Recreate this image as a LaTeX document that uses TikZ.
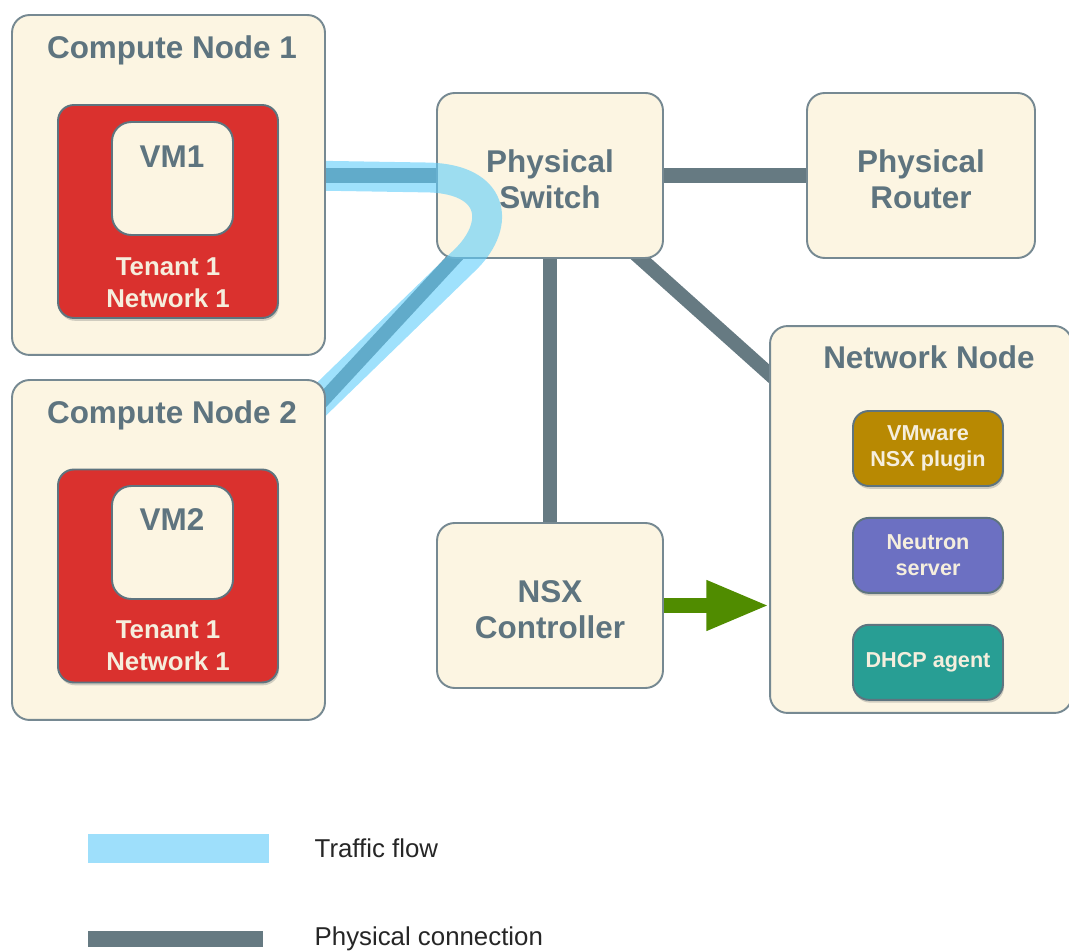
\documentclass[tikz,border=0pt]{standalone}
\usepackage{fontspec}
\setmainfont{Liberation Sans}
\usetikzlibrary{arrows.meta, positioning, calc, shadows}
\definecolor{cream}{RGB}{252,245,226}
\definecolor{slate}{RGB}{94,116,127}
\definecolor{rim}{RGB}{118,137,146}
\definecolor{wiregray}{RGB}{102,122,130}
\definecolor{tenantred}{RGB}{218,49,46}
\definecolor{pluginochre}{RGB}{184,137,2}
\definecolor{neutronblue}{RGB}{108,112,194}
\definecolor{dhcpteal}{RGB}{40,158,148}
\definecolor{flowblue}{RGB}{95,205,250}
\definecolor{keyblue}{RGB}{158,223,251}
\definecolor{ctrlgreen}{RGB}{80,140,0}
\definecolor{paletext}{RGB}{245,238,221}
\newcommand{\hostfont}{\fontsize{17.9}{20.4}\selectfont\bfseries}
\newcommand{\netfont}{\fontsize{14.7}{18.1}\selectfont\bfseries}
\newcommand{\svcfont}{\fontsize{12.3}{14.7}\selectfont\bfseries}
\newcommand{\keyfont}{\fontsize{14.7}{17}\selectfont}
\pgfdeclarelayer{wires}
\pgfdeclarelayer{front}
\pgfsetlayers{wires,main,front}
\tikzset{
  host/.style={draw=rim, line width=1.1pt, fill=cream, rounded corners=10pt, inner sep=0pt},
  hosttitle/.style={font=\hostfont, text=slate, anchor=base, inner sep=0pt},
  box/.style={host, align=center, font=\hostfont, text=slate, minimum width=4.52cm, minimum height=3.3cm, text height=38pt},
  tenant/.style={draw=slate, line width=1.1pt, fill=tenantred, rounded corners=9pt, minimum width=4.4cm, minimum height=4.26cm, drop shadow={shadow xshift=0.6pt, shadow yshift=-1.6pt, opacity=0.35}},
  vm/.style={draw=slate, line width=1.1pt, fill=cream, rounded corners=11pt, minimum width=2.42cm, minimum height=2.26cm},
  vmlabel/.style={font=\hostfont, text=slate, anchor=base, inner sep=0pt},
  netlabel/.style={font=\netfont, text=paletext, align=center, inner sep=0pt},
  service/.style={draw=slate, line width=1.1pt, rounded corners=9pt, minimum width=3cm, minimum height=1.5cm, font=\svcfont, text=paletext, align=center, drop shadow={shadow xshift=0.6pt, shadow yshift=-1.6pt, opacity=0.35}},
  wire/.style={line width=8pt, wiregray},
  traffic/.style={line width=17pt, flowblue, opacity=0.6},
  control/.style={-{Triangle[length=35.7pt, width=26.6pt]}, line width=8pt, ctrlgreen},
  keybar/.style={inner sep=0pt},
  keytext/.style={font=\keyfont, text=black!85, inner sep=0pt}
}

\begin{document}
\begin{tikzpicture}[x=0.02cm, y=-0.02cm]
    \useasboundingbox (0,0) rectangle (1069,952);
    \clip (0,0) rectangle (1069,952);

    \begin{pgfonlayer}{front}
    \node[host, minimum width=6.26cm, minimum height=6.8cm] (cn1) at (168.5,185) {};
    \node[hosttitle] (cn1title) at (172,59) {Compute Node 1};
    \node[tenant] (tn1) at (168,211.5) {};
    \node[vm] (vm1) at (172.5,178.5) {};
    \node[vmlabel] (vm1label) at (172,168) {VM1};
    \node[netlabel] (tn1label) at (168,283) {Tenant 1\\Network 1};

    \node[host, minimum width=6.26cm, minimum height=6.8cm] (cn2) at (168.5,550) {};
    \node[hosttitle] (cn2title) at (172,424) {Compute Node 2};
    \node[tenant] (tn2) at (168,576) {};
    \node[vm] (vm2) at (172.5,542.5) {};
    \node[vmlabel] (vm2label) at (172,531) {VM2};
    \node[netlabel] (tn2label) at (168,646) {Tenant 1\\Network 1};
    \end{pgfonlayer}

    \node[box] (switch) at (550,175.5) {Physical\\Switch};
    \node[box, minimum width=4.56cm] (router) at (921,175.5) {Physical\\Router};
    \node[box] (nsx) at (550,605.5) {NSX\\Controller};
    \node[host, minimum width=6.04cm, minimum height=7.74cm] (netnode) at (921,519.5) {};
    \node[hosttitle] (netnodetitle) at (929,369) {Network Node};
    \node[service, fill=pluginochre] (plugin) at (928,448.5) {VMware\\NSX plugin};
    \node[service, fill=neutronblue, below=0.6cm of plugin] (neutron) {Neutron\\server};
    \node[service, fill=dhcpteal, below=0.6cm of neutron] (dhcp) {DHCP agent};

    \begin{pgfonlayer}{wires}
    \draw[wire] (switch.west -| cn1.east) -- (switch.west);
    \draw[wire] (switch) -- (router);
    \draw[wire] (switch) -- (nsx);
    \draw[wire] ($(switch.south)+(52,-35)$) -- ($(netnode.north west)+(26,72)$);
    \draw[wire] ($(switch.south west)+(63,-49)$) -- ($(cn2.north east)+(-39,60)$);
    \end{pgfonlayer}

    \draw[traffic] ($(switch.west -| cn1.east)+(-20,0)$) -- ($(switch.west)+(-7,2)$) .. controls +(65,2) and +(34,-35) .. ($(switch.south west)+(31,-1)$) -- ($(cn2.north east)+(-25,40)$);
    \draw[control] (nsx.east) -- (nsx.east -| netnode.west);

    \node[keybar, fill=keyblue, minimum width=3.62cm, minimum height=0.58cm] (keyflow) at (178.5,848.5) {};
    \node[keytext, right=0.9cm of keyflow] (keyflowtext) {Traffic flow};
    \node[keybar, fill=wiregray, minimum width=3.5cm, minimum height=0.32cm] (keywire) at (175.5,939) {};
    \node[keytext, right=1.02cm of keywire] (keywiretext) {Physical connection};
\end{tikzpicture}
\end{document}
